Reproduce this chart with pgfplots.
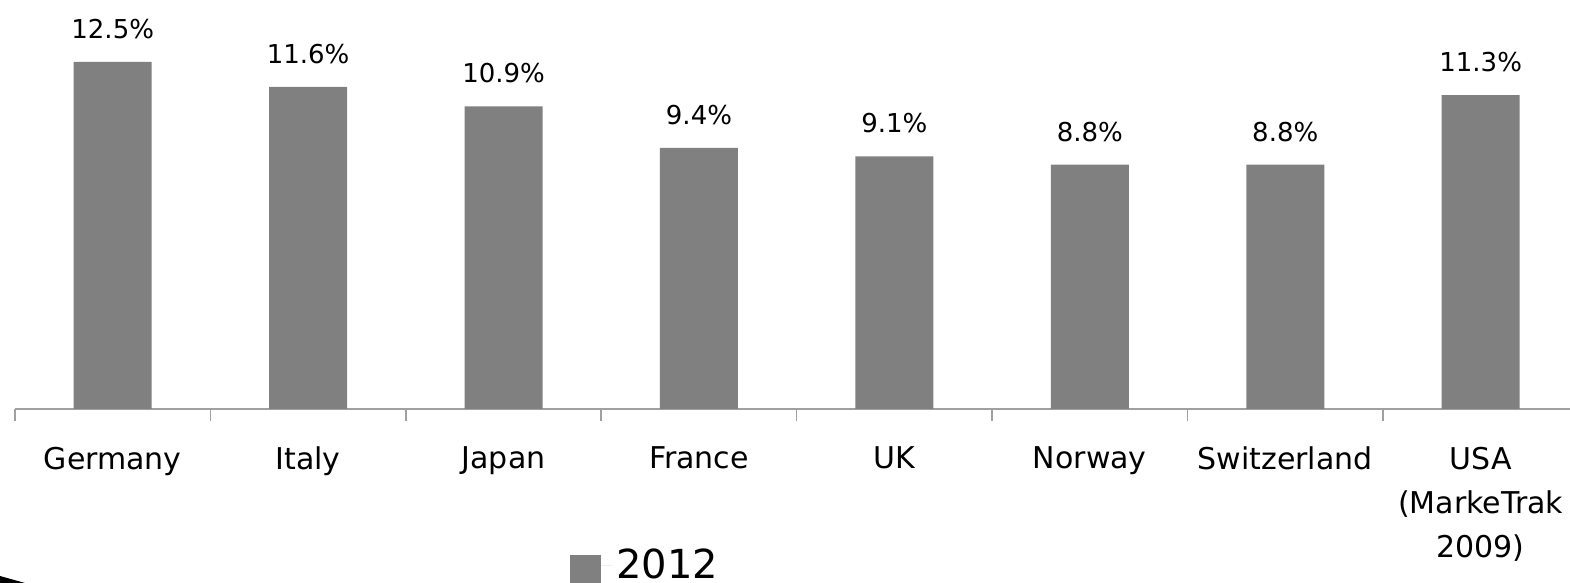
\documentclass[border=0pt]{standalone}
\usepackage{pgfplots}
\pgfplotsset{compat=1.18}
\usepackage{fontspec}
\setmainfont{DejaVu Sans}
\definecolor{barg}{HTML}{808080}
\definecolor{axg}{HTML}{A0A0A0}
\begin{document}
\begin{tikzpicture}
\path[use as bounding box] (-7.5pt,-87pt) rectangle (777.5pt,204.5pt);
\fill[black] (-7.5pt,-83.5pt) -- (5pt,-87pt) -- (-7.5pt,-87pt) -- cycle;
\begin{axis}[
  at={(0,0)}, anchor=south west, scale only axis,
  width=781.7pt, height=204.5pt,
  xmin=-0.5, xmax=7.5, ymin=0, ymax=14.73,
  axis y line=none, axis x line*=bottom,
  x axis line style={axg, line width=1pt},
  xtick={0,...,7},
  xticklabels={Germany,Italy,Japan,France,UK,Norway,Switzerland,{USA\\(MarkeTrak\\2009)}},
  major tick length=0pt,
  minor xtick={-0.5,0.5,...,7.5},
  minor x tick style={axg, line width=0.8pt},
  minor tick length=6pt, tick align=outside,
  xticklabel style={font=\fontsize{15}{22}\selectfont, align=center, anchor=north, yshift=-15.5pt},
  clip=false,
  ybar, bar width=39pt,
  /pgf/number format/assume math mode=true,
  nodes near coords={\pgfmathprintnumber[fixed,precision=1,fixed zerofill,assume math mode=true]{\pgfplotspointmeta}\%},
  every node near coord/.append style={font=\fontsize{13}{15}\selectfont, yshift=8pt, black},
  legend style={draw=none, at={(0.355,-0.383)}, anchor=west, font=\fontsize{20}{24}\selectfont, inner sep=0pt},
  legend image code/.code={\fill[barg] (0pt,-10.5pt) rectangle (15.5pt,5pt); \path (0pt,0pt) -- (21pt,0pt);},
]
\addplot[fill=barg, draw=none] coordinates {(0,12.5) (1,11.6) (2,10.9) (3,9.4) (4,9.1) (5,8.8) (6,8.8) (7,11.3)};
\legend{2012}
\end{axis}
\end{tikzpicture}
\end{document}
